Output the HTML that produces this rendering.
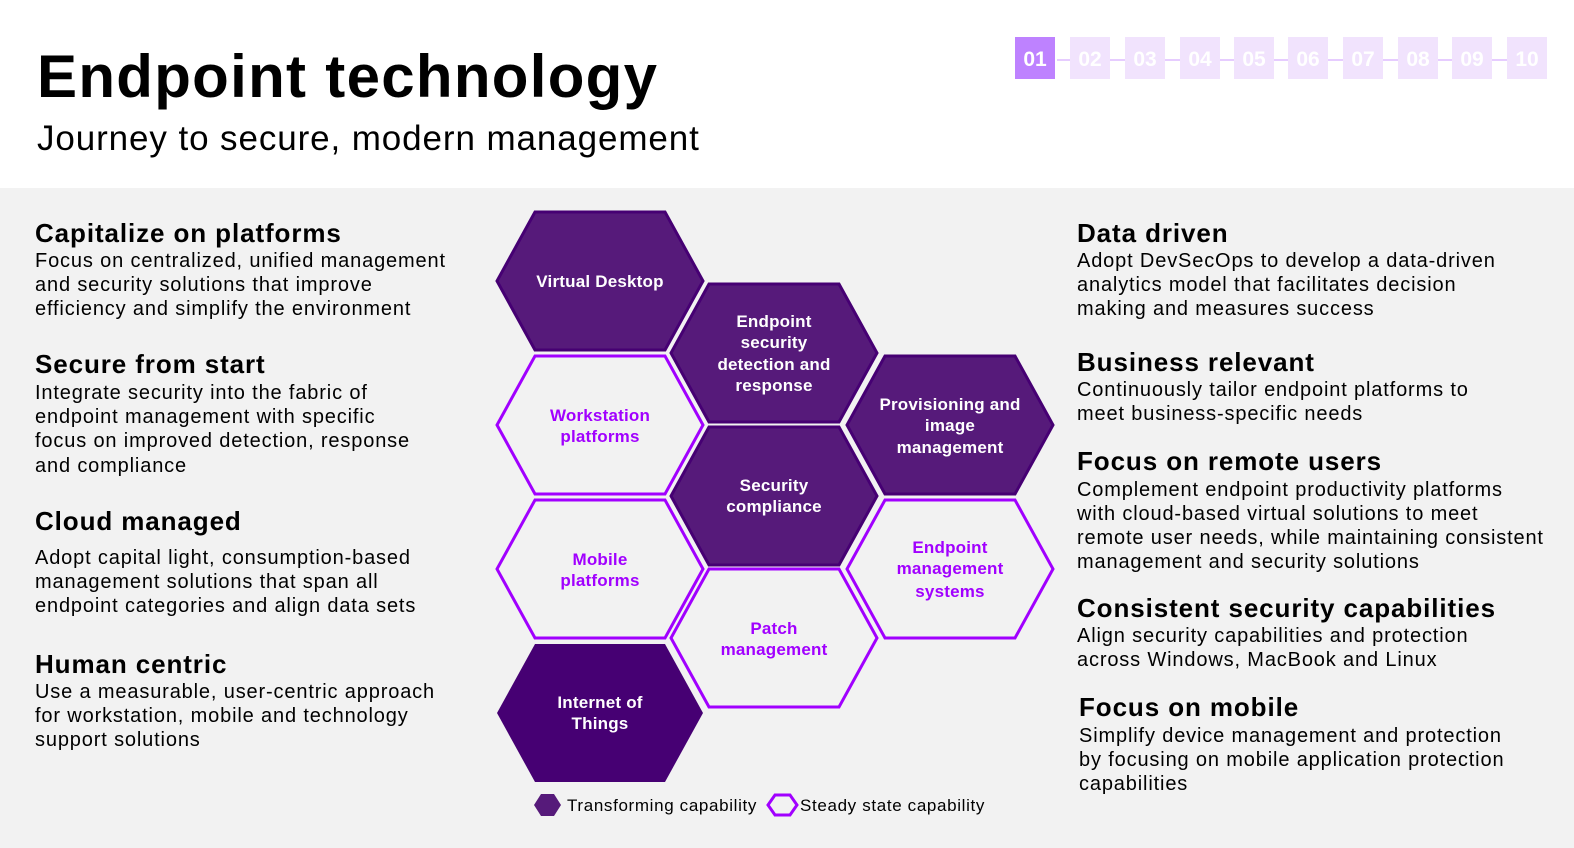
<!DOCTYPE html>
<html><head><meta charset="utf-8"><style>
html,body{margin:0;padding:0;background:#f2f2f2}
svg{display:block}
text{font-family:"Liberation Sans",sans-serif}
.h{font-size:26px;font-weight:bold;fill:#000;letter-spacing:0.9px}
.b{font-size:20px;fill:#000;letter-spacing:0.85px}
.w{font-size:17px;font-weight:bold;fill:#fff;text-anchor:middle;letter-spacing:0.2px}
.p{font-size:17px;font-weight:bold;fill:#a100ff;text-anchor:middle;letter-spacing:0.2px}
.n{font-size:21px;font-weight:bold;fill:#fff;text-anchor:middle}
</style></head><body>
<svg width="1574" height="848" viewBox="0 0 1574 848" xmlns="http://www.w3.org/2000/svg">
<defs>
<polygon id="hx" points="-65,-69 65,-69 103,0 65,69 -65,69 -103,0"/>
</defs>
<rect x="0" y="0" width="1574" height="188" fill="#fff"/>
<rect x="0" y="188" width="1574" height="660" fill="#f2f2f2"/>
<text x="37" y="97" style="font-size:60px;font-weight:bold;letter-spacing:1.3px">Endpoint technology</text>
<text x="37" y="150" style="font-size:35px;letter-spacing:0.9px">Journey to secure, modern management</text>
<!-- pagination -->
<line x1="1057" y1="60" x2="1508" y2="60" stroke="#e6ccff" stroke-width="2"/>
<rect x="1015" y="37" width="40" height="42" fill="#be82ff"/>
<g fill="#f1e3fd">
<rect x="1070" y="37" width="40" height="42"/><rect x="1125" y="37" width="40" height="42"/><rect x="1180" y="37" width="40" height="42"/><rect x="1234" y="37" width="40" height="42"/><rect x="1288" y="37" width="40" height="42"/><rect x="1343" y="37" width="40" height="42"/><rect x="1398" y="37" width="40" height="42"/><rect x="1452" y="37" width="40" height="42"/><rect x="1507" y="37" width="40" height="42"/>
</g>
<g class="n"><text x="1035" y="66">01</text><text x="1090" y="66">02</text><text x="1145" y="66">03</text><text x="1200" y="66">04</text><text x="1254" y="66">05</text><text x="1308" y="66">06</text><text x="1363" y="66">07</text><text x="1418" y="66">08</text><text x="1472" y="66">09</text><text x="1527" y="66">10</text></g>
<!-- left text -->
<text class="h" x="35" y="242">Capitalize on platforms</text>
<text class="b" x="35" y="267">Focus on centralized, unified management</text>
<text class="b" x="35" y="291">and security solutions that improve</text>
<text class="b" x="35" y="315">efficiency and simplify the environment</text>
<text class="h" x="35" y="373">Secure from start</text>
<text class="b" x="35" y="399">Integrate security into the fabric of</text>
<text class="b" x="35" y="423">endpoint management with specific</text>
<text class="b" x="35" y="447">focus on improved detection, response</text>
<text class="b" x="35" y="472">and compliance</text>
<text class="h" x="35" y="530">Cloud managed</text>
<text class="b" x="35" y="564">Adopt capital light, consumption-based</text>
<text class="b" x="35" y="588">management solutions that span all</text>
<text class="b" x="35" y="612">endpoint categories and align data sets</text>
<text class="h" x="35" y="673">Human centric</text>
<text class="b" x="35" y="698">Use a measurable, user-centric approach</text>
<text class="b" x="35" y="722">for workstation, mobile and technology</text>
<text class="b" x="35" y="746">support solutions</text>
<!-- right text -->
<text class="h" x="1077" y="242">Data driven</text>
<text class="b" x="1077" y="267">Adopt DevSecOps to develop a data-driven</text>
<text class="b" x="1077" y="291">analytics model that facilitates decision</text>
<text class="b" x="1077" y="315">making and measures success</text>
<text class="h" x="1077" y="371">Business relevant</text>
<text class="b" x="1077" y="396">Continuously tailor endpoint platforms to</text>
<text class="b" x="1077" y="420">meet business-specific needs</text>
<text class="h" x="1077" y="470">Focus on remote users</text>
<text class="b" x="1077" y="496">Complement endpoint productivity platforms</text>
<text class="b" x="1077" y="520">with cloud-based virtual solutions to meet</text>
<text class="b" x="1077" y="544">remote user needs, while maintaining consistent</text>
<text class="b" x="1077" y="568">management and security solutions</text>
<text class="h" x="1077" y="617">Consistent security capabilities</text>
<text class="b" x="1077" y="642">Align security capabilities and protection</text>
<text class="b" x="1077" y="666">across Windows, MacBook and Linux</text>
<text class="h" x="1079" y="716">Focus on mobile</text>
<text class="b" x="1079" y="742">Simplify device management and protection</text>
<text class="b" x="1079" y="766">by focusing on mobile application protection</text>
<text class="b" x="1079" y="790">capabilities</text>
<!-- hexes -->
<g fill="#561a7a" stroke="#460073" stroke-width="3">
<use href="#hx" x="600" y="281"/>
<use href="#hx" x="774" y="353"/>
<use href="#hx" x="774" y="496"/>
<use href="#hx" x="950" y="425"/>
</g>
<use href="#hx" x="600" y="713" fill="#460073"/>
<g fill="#f2f2f2" stroke="#a100ff" stroke-width="3">
<use href="#hx" x="600" y="425"/>
<use href="#hx" x="600" y="569"/>
<use href="#hx" x="774" y="638"/>
<use href="#hx" x="950" y="569"/>
</g>
<text class="w" x="600" y="287">Virtual Desktop</text>
<text class="w" x="774" y="327">Endpoint</text>
<text class="w" x="774" y="348">security</text>
<text class="w" x="774" y="370">detection and</text>
<text class="w" x="774" y="391">response</text>
<text class="w" x="774" y="491">Security</text>
<text class="w" x="774" y="512">compliance</text>
<text class="w" x="950" y="410">Provisioning and</text>
<text class="w" x="950" y="431">image</text>
<text class="w" x="950" y="453">management</text>
<text class="w" x="600" y="708">Internet of</text>
<text class="w" x="600" y="729">Things</text>
<text class="p" x="600" y="421">Workstation</text>
<text class="p" x="600" y="442">platforms</text>
<text class="p" x="600" y="565">Mobile</text>
<text class="p" x="600" y="586">platforms</text>
<text class="p" x="774" y="634">Patch</text>
<text class="p" x="774" y="655">management</text>
<text class="p" x="950" y="553">Endpoint</text>
<text class="p" x="950" y="574">management</text>
<text class="p" x="950" y="597">systems</text>
<!-- legend -->
<polygon points="541,794 554,794 561,805 554,816 541,816 534,805" fill="#561a7a"/>
<text x="567" y="811" style="font-size:17px;letter-spacing:0.65px">Transforming capability</text>
<polygon points="775,795 790,795 797,805 790,815 775,815 768,805" fill="#f2f2f2" stroke="#a100ff" stroke-width="3"/>
<text x="800" y="811" style="font-size:17px;letter-spacing:0.65px">Steady state capability</text>
</svg>
</body></html>
